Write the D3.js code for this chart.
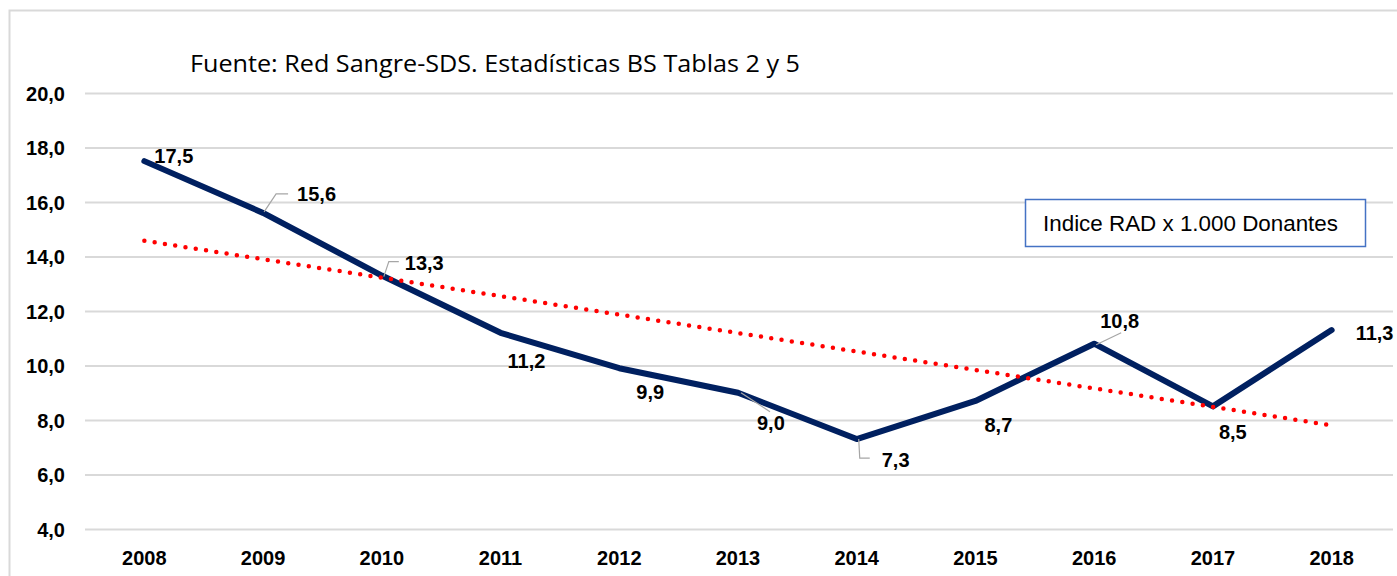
<!DOCTYPE html>
<html>
<head>
<meta charset="utf-8">
<script src="https://cdn.jsdelivr.net/npm/d3@7"></script>
<style>
  body { margin: 0; background: #fff; }
  svg { display: block; }
  .axis text { font-family: "Liberation Sans", Arial, sans-serif; font-weight: bold; font-size: 20px; fill: #000; }
  .lbl { font-family: "Liberation Sans", Arial, sans-serif; font-weight: bold; font-size: 20px; fill: #000; }
</style>
</head>
<body>
<svg id="chart" width="1397" height="576"></svg>
<script>
// data
const years = ["2008", "2009", "2010", "2011", "2012", "2013", "2014", "2015", "2016", "2017", "2018"];
const indiceRAD = [17.5, 15.6, 13.3, 11.2, 9.9, 9.0, 7.3, 8.7, 10.8, 8.5, 11.3];
const yTicks = [4, 6, 8, 10, 12, 14, 16, 18, 20];
const title = "Fuente: Red Sangre-SDS. Estadísticas BS Tablas 2 y 5";
const legendText = "Indice RAD x 1.000 Donantes";

// label placement (offset from point, px) and leader lines
const labelOffset = {
    "2008": [10, -5], "2009": [34, -19], "2010": [23, -13], "2011": [7, 28],
    "2012": [17, 24], "2013": [19, 30], "2014": [25, 21], "2015": [9, 24],
    "2016": [6, -23], "2017": [6, 25], "2018": [24, 3]
};
const leaders = {
    "2009": [[1, -1], [13, -19], [25, -19]],
    "2010": [[2, 1], [7, -14], [17, -14]],
    "2013": [[3, 0], [32, 19]],
    "2014": [[2, 0], [3, 19], [13, 19]],
    "2016": [[2, 1], [27, -11]]
};

const fmt = d3.formatLocale({decimal: ",", thousands: ".", grouping: [3], currency: ["", ""]}).format(".1f");

const svg = d3.select("#chart");

// chart area outline
svg.append("rect")
    .attr("x", 9.5).attr("y", 10.5)
    .attr("width", 1420).attr("height", 600)
    .attr("fill", "none")
    .attr("stroke", "#d9d9d9")
    .attr("stroke-width", 2);

const x = d3.scaleBand().domain(years).range([85, 1391]).paddingInner(0).paddingOuter(0);
const cx = d => x(d) + x.bandwidth() / 2;
const y = d3.scaleLinear().domain([4, 20]).range([529, 93]);

// y axis + gridlines
const yAxis = svg.append("g")
    .attr("class", "axis")
    .attr("transform", "translate(85,0)")
    .call(d3.axisLeft(y).tickValues(yTicks).tickSize(-(1393 - 85)).tickPadding(20).tickFormat(fmt));
yAxis.select(".domain").remove();
yAxis.selectAll(".tick line").attr("stroke", "#d9d9d9").attr("stroke-width", 2);
yAxis.selectAll(".tick text").attr("dy", "0.36em");

// x axis labels
const xAxis = svg.append("g")
    .attr("class", "axis")
    .attr("transform", "translate(0,529)")
    .call(d3.axisBottom(x).tickSize(0).tickPadding(0));
xAxis.select(".domain").remove();
xAxis.selectAll(".tick text").attr("y", 36).attr("dy", 0);

// title
svg.append("text")
    .attr("x", 190).attr("y", 72)
    .attr("textLength", 610).attr("lengthAdjust", "spacingAndGlyphs")
    .style("font-family", "'Open Sans', sans-serif")
    .style("font-size", "23px")
    .style("fill", "#000")
    .text(title);

// linear trendline (least squares, like the spreadsheet)
const xs = indiceRAD.map((v, i) => i);
const mx = d3.mean(xs), my = d3.mean(indiceRAD);
const slope = d3.sum(xs, (v, i) => (v - mx) * (indiceRAD[i] - my)) / d3.sum(xs, v => (v - mx) * (v - mx));
const icpt = my - slope * mx;
const trend = [[years[0], icpt], [years[years.length - 1], icpt + slope * (years.length - 1)]];

// main line
const line = d3.line().x(d => cx(d[0])).y(d => y(d[1]));
const series = years.map((yr, i) => [yr, indiceRAD[i]]);

svg.append("path")
    .datum(series)
    .attr("d", line)
    .attr("fill", "none")
    .attr("stroke", "#002060")
    .attr("stroke-width", 6)
    .attr("stroke-linecap", "round")
    .attr("stroke-linejoin", "round");

svg.append("path")
    .datum(trend)
    .attr("d", line)
    .attr("fill", "none")
    .attr("stroke", "#ff0000")
    .attr("stroke-width", 4.5)
    .attr("stroke-linecap", "round")
    .attr("stroke-dasharray", "0 10.4");

// leader lines
Object.keys(leaders).forEach(yr => {
    const i = years.indexOf(yr);
    const px = cx(yr), py = y(indiceRAD[i]);
    svg.append("polyline")
        .attr("points", leaders[yr].map(p => [px + p[0], py + p[1]].join(",")).join(" "))
        .attr("fill", "none")
        .attr("stroke", "#a6a6a6")
        .attr("stroke-width", 1.2);
});

// data labels
svg.append("g").selectAll("text")
    .data(series)
    .join("text")
    .attr("class", "lbl")
    .attr("x", d => cx(d[0]) + labelOffset[d[0]][0])
    .attr("y", d => y(d[1]) + labelOffset[d[0]][1])
    .attr("dy", "0.36em")
    .text(d => fmt(d[1]));

// legend box
const lg = svg.append("g").attr("transform", "translate(1025,199)");
lg.append("rect")
    .attr("x", 0.5).attr("y", 0.5)
    .attr("width", 340).attr("height", 47)
    .attr("fill", "#fff")
    .attr("stroke", "#4472c4")
    .attr("stroke-width", 1.5);
lg.append("text")
    .attr("x", 18).attr("y", 32)
    .attr("textLength", 295).attr("lengthAdjust", "spacingAndGlyphs")
    .style("font-family", "'Liberation Sans', Arial, sans-serif")
    .style("font-size", "22px")
    .style("fill", "#000")
    .text(legendText);
</script>
</body>
</html>
